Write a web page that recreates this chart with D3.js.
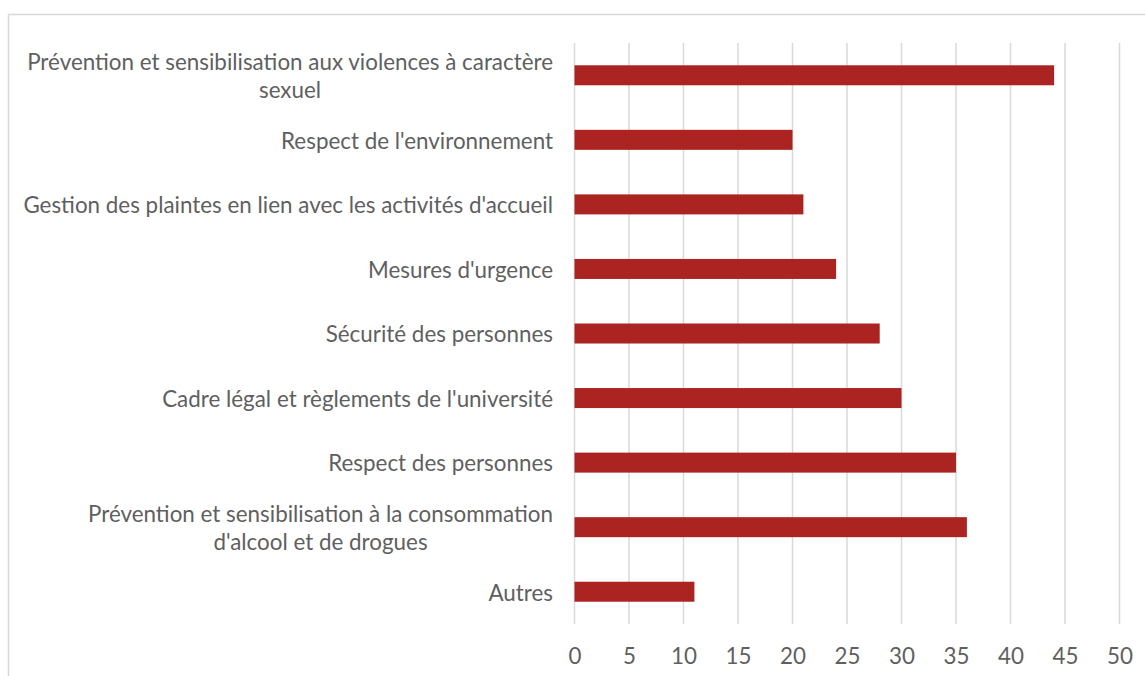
<!DOCTYPE html>
<html>
<head>
<meta charset="utf-8">
<script src="https://cdn.jsdelivr.net/npm/d3@7"></script>
<style>
  html, body { margin: 0; padding: 0; background: #fff; }
  svg { display: block; }
</style>
</head>
<body>
<svg id="chart" width="1145" height="676"></svg>
<script>
// Categories, top to bottom; multi-line labels are split into lines
const categories = [
  ["Prévention et sensibilisation aux violences à caractère", "sexuel"],
  ["Respect de l'environnement"],
  ["Gestion des plaintes en lien avec les activités d'accueil"],
  ["Mesures d'urgence"],
  ["Sécurité des personnes"],
  ["Cadre légal et règlements de l'université"],
  ["Respect des personnes"],
  ["Prévention et sensibilisation à la consommation", "d'alcool et de drogues"],
  ["Autres"]
];
const values = [44, 20, 21, 24, 28, 30, 35, 36, 11];
const xTicks = [0, 5, 10, 15, 20, 25, 30, 35, 40, 45, 50];

const svg = d3.select("#chart");
const FONT = "Lato, 'Open Sans', sans-serif";
const TEXT = "#5f5f5f";
const GRID = "#d9d9d9";
const BAR = "#ab2421";

// Frame
svg.append("rect")
  .attr("x", 8.5).attr("y", 14.5)
  .attr("width", 1145).attr("height", 700)
  .attr("fill", "none").attr("stroke", GRID).attr("stroke-width", 1.5);

const x = d3.scaleLinear().domain([0, 50]).range([574.5, 1119.5]);
const y = d3.scaleBand().domain(d3.range(categories.length)).range([43, 624]).paddingInner(0.69).paddingOuter(0.345);

// Vertical gridlines
svg.append("g").selectAll("line").data(xTicks).join("line")
  .attr("x1", d => x(d)).attr("x2", d => x(d))
  .attr("y1", 43).attr("y2", 624)
  .attr("stroke", GRID).attr("stroke-width", 1.5);

// Bars
svg.append("g").selectAll("rect").data(values).join("rect")
  .attr("x", x(0))
  .attr("y", (d, i) => y(i))
  .attr("width", d => x(d) - x(0))
  .attr("height", y.bandwidth())
  .attr("fill", BAR);

// Font size chosen so the longest single-line label spans the label column
const probe = svg.append("text").attr("font-family", FONT).attr("font-size", 20)
  .text(categories[2][0]);
const fs = 20 * 530 / probe.node().getComputedTextLength();
probe.remove();

// Category labels: block right-aligned, lines centred within the block
const labels = svg.append("g").attr("font-family", FONT).attr("font-size", fs).attr("fill", TEXT);
categories.forEach((lines, i) => {
  const cy = y(i) + y.bandwidth() / 2;
  const lh = 28;
  const g = labels.append("g");
  const widths = lines.map(l => {
    const t = g.append("text").text(l);
    const w = t.node().getComputedTextLength();
    t.remove();
    return w;
  });
  const maxW = d3.max(widths);
  const right = 553;
  lines.forEach((l, k) => {
    g.append("text")
      .attr("x", right - maxW / 2)
      .attr("y", cy + (k - (lines.length - 1) / 2) * lh + 1)
      .attr("dy", "0.35em")
      .attr("text-anchor", "middle")
      .text(l);
  });
});

// X axis tick labels
const axis = d3.axisBottom(x).tickValues(xTicks).tickSize(0).tickPadding(0);
const ax = svg.append("g").attr("transform", "translate(0,648)").call(axis);
ax.select(".domain").remove();
ax.selectAll("text").attr("font-family", FONT).attr("font-size", fs).attr("fill", TEXT);
</script>
</body>
</html>
